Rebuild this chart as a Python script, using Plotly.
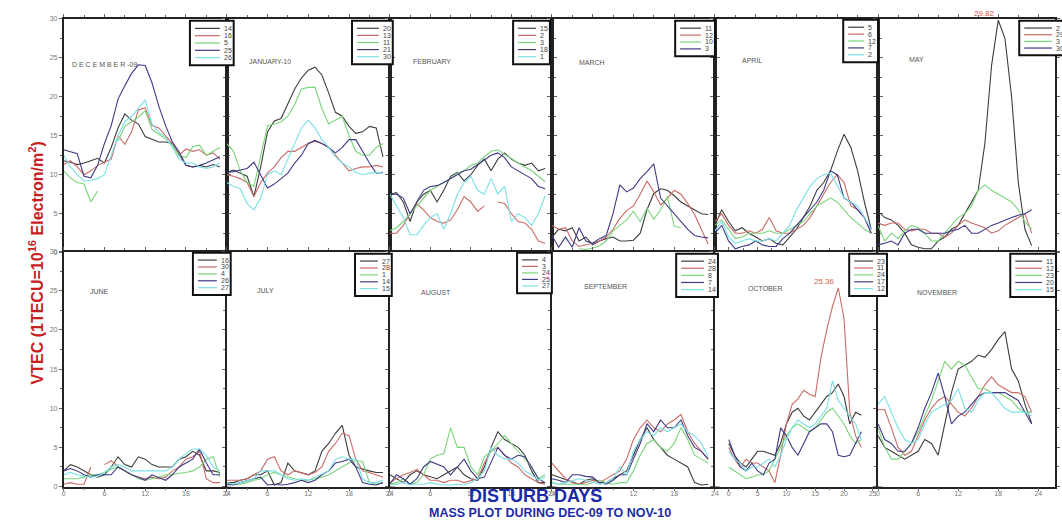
import plotly.graph_objects as go

# ---------------------------------------------------------------- data
HOURS = list(range(24))
N = None

SERIES_COLORS = ["#3c3c3c", "#c96b66", "#7ad57a", "#3f3a86", "#7ae0e6"]

MONTH_NAMES = ["D E C E M B E R -09", "JANUARY-10", "FEBRUARY", "MARCH", "APRIL", "MAY",
               "JUNE", "JULY", "AUGUST", "SEPTEMBER", "OCTOBER", "NOVEMBER"]

DEC_DAYS = ["14", "16", "5", "25", "26"]
DEC_VTEC = [
    [11.8, 11.6, 11.3, 11.5, 11.8, 12.1, 11.5, 13.5, 16.0, 17.8, 17.0, 16.5, 14.9, 14.5, 14.2, 14.2, 14.0, 12.6, 11.2, 11.0, 11.2, 11.0, 11.3, 11.0],
    [11.3, 11.8, 11.0, 10.0, 10.5, 11.2, 11.6, 12.0, 15.0, 13.9, 15.5, 18.3, 18.6, 16.3, 16.0, 15.0, 14.0, 12.5, 13.3, 13.0, 13.2, 12.5, 12.8, 12.0],
    [10.5, 9.6, 9.0, 8.8, 6.5, 7.9, N, N, 14.3, 16.2, 16.8, 17.4, 18.2, 15.8, 15.2, 14.6, 13.8, 12.4, 12.2, 13.6, 13.8, 12.5, 13.0, 13.5],
    [13.2, 13.0, 12.7, 9.8, 9.6, 11.2, 14.0, 16.3, 19.7, 21.4, 23.0, 24.1, 24.0, 21.8, 18.8, 16.3, 14.2, 12.9, 11.2, 11.0, 11.2, 11.5, 11.9, 12.3],
    [12.5, 11.0, 10.0, 9.2, 9.3, 9.5, 10.0, 12.5, 15.0, 16.8, 17.5, 18.5, 19.6, 16.5, 15.5, 14.8, 13.5, 12.0, 11.5, 11.5, 11.0, 10.8, 11.0, 11.5],
]

JAN_DAYS = ["20", "13", "11", "21", "30"]
JAN_VTEC = [
    [10.3, 10.6, 10.2, 9.8, 7.2, 11.0, 15.5, 16.9, 17.2, 19.0, 21.0, 22.4, 23.4, 23.8, 22.8, 20.5, 18.0, 17.5, 16.2, 15.3, 15.5, 16.2, 16.0, 12.3],
    [10.0, 9.8, 9.5, 9.0, 7.2, 9.0, 10.2, 11.0, 12.2, 13.0, 13.0, 13.5, 14.0, 14.3, 14.0, 13.5, 12.5, 11.5, 10.5, 10.8, 11.0, 11.0, 11.2, 11.0],
    [14.0, 13.0, 10.5, 9.0, 8.5, 12.5, 16.3, 16.5, 16.8, 17.5, 19.0, 21.0, 21.2, 21.2, 18.5, 16.5, 17.0, 17.5, 15.0, 13.0, 12.5, 12.5, 13.5, 14.0],
    [10.3, 10.4, 10.6, 10.8, 11.6, 10.0, 8.3, 8.8, 9.5, 10.2, 11.5, 12.5, 14.0, 14.4, 14.0, 13.5, 12.8, 13.5, 14.5, 14.5, 13.0, 11.5, 10.2, 10.3],
    [9.0, 8.5, 8.2, 6.3, 5.5, 7.0, 10.0, 10.5, 10.0, 12.0, 14.0, 16.0, 17.0, 16.0, 14.5, 13.5, 12.3, 11.5, 11.0, 10.3, 10.0, 10.2, 10.3, 10.2],
]

FEB_DAYS = ["15", "2", "3", "18", "1"]
FEB_VTEC = [
    [7.5, 7.7, 6.5, 4.0, 6.5, 7.5, 8.0, 6.5, 8.0, 9.8, 10.3, 9.2, 10.0, 11.2, 12.0, 10.5, 12.0, 12.8, 12.0, 11.5, 11.2, 11.5, 10.5, 10.8],
    [2.5, 2.5, 3.5, 5.0, 6.3, 5.5, 4.5, 4.0, 3.8, 4.2, 5.5, 7.2, 6.5, 5.3, 6.0, N, 6.5, 6.3, 5.0, 4.0, 3.8, 3.0, 1.5, 1.2],
    [2.8, 3.2, 4.0, 5.0, 6.0, 7.0, 8.0, 8.5, 9.0, 9.5, 10.2, 10.5, 11.2, 11.5, 12.3, 13.0, 13.2, 12.6, 12.0, 11.5, 11.0, 10.5, 9.8, 9.1],
    [7.5, 7.5, 7.0, 5.0, 6.5, 8.0, 8.5, 8.6, 9.0, 9.5, 10.0, 10.5, 10.7, 11.3, 12.0, 12.5, 12.8, 12.2, 11.0, 10.5, 10.0, 9.5, 8.5, 8.2],
    [7.5, 6.0, 4.5, 2.3, 2.3, 3.5, 4.5, 5.0, 3.0, 5.0, 7.5, 9.0, 9.8, 8.0, 7.5, 9.5, 7.5, 8.5, 4.0, 5.0, 4.5, 3.5, 5.0, 7.3],
]

MAR_DAYS = ["11", "12", "10", "3"]
MAR_VTEC = [
    [2.0, 3.0, 2.8, 3.2, 1.5, 2.0, 1.0, 1.5, 1.8, 2.0, 1.5, 1.5, 1.6, 2.5, 5.5, 7.6, 8.2, 8.0, 7.3, 6.5, 6.0, 5.5, 5.0, 4.9],
    [3.5, 3.0, 3.2, 1.5, 0.8, 1.0, 1.2, 1.5, 2.0, 3.0, 4.4, 5.4, 6.0, 7.5, 9.2, 7.8, 6.1, 7.0, 8.0, 7.5, 6.3, 4.9, 3.0, 1.1],
    [N, N, N, N, 0.5, 0.4, 0.6, 0.9, 1.5, 2.8, 3.5, 4.2, 5.3, 4.0, 5.7, 4.3, 5.5, 7.2, 3.4, 3.2, N, N, N, N],
    [2.2, 0.7, 2.0, 0.7, 3.2, 1.5, 1.2, 1.8, 2.2, 5.0, 8.7, 7.8, 8.3, 9.5, 10.4, 11.4, 7.0, 6.0, 4.9, 4.0, 3.0, 2.2, 2.0, 1.9],
]

APR_DAYS = ["5", "6", "12", "7", "2"]
APR_VTEC = [
    [3.5, 5.5, 4.0, 2.8, 3.2, 2.5, 2.0, 1.5, 1.8, 1.2, 1.0, 2.0, 3.0, 4.5, 6.0, 8.0, 9.0, 10.5, 13.0, 15.2, 13.5, 10.5, 6.5, 3.0],
    [4.0, 5.0, 3.5, 2.5, 2.5, 2.8, 2.5, 3.0, 4.5, 2.8, 2.5, 2.5, 3.0, 3.5, 4.5, 6.0, 7.5, 9.0, 10.0, 9.0, 6.0, 5.5, 4.5, 2.5],
    [3.5, 4.2, 3.0, 1.8, 2.0, 2.5, 2.5, 2.5, 2.8, 2.5, 2.5, 3.0, 3.5, 4.0, 5.0, 6.0, 6.5, 7.0, 6.5, 5.5, 4.5, 3.8, 3.0, 2.5],
    [2.5, 3.5, 1.5, 0.5, 0.8, 1.0, 1.5, 1.0, 0.8, 0.8, 1.8, 2.5, 3.5, 4.5, 5.5, 6.5, 8.0, 10.5, 10.0, 7.0, 6.5, 5.5, 4.5, 2.5],
    [2.8, 4.0, 2.0, 1.2, 1.5, 1.8, 1.5, 1.5, 1.8, 1.5, 2.5, 3.5, 5.5, 7.0, 8.5, 9.5, 10.0, 10.2, 8.5, 7.0, 6.5, 6.0, 4.5, 3.0],
]

MAY_DAYS = ["2", "29", "3", "30"]
MAY_VTEC = [
    [5.3, 4.5, 4.2, 3.5, 2.5, 1.0, 0.7, 0.5, 0.5, 1.5, 2.0, 3.0, 3.5, 5.0, 6.5, 8.0, 14.0, 24.0, 29.82, 27.5, 20.0, 9.0, 3.0, 0.9],
    [3.8, 3.5, 3.8, 3.8, 3.0, 2.8, 3.0, 3.0, 2.5, 2.5, 2.0, 2.5, 3.5, 4.2, 3.8, 3.5, 3.2, 2.5, 2.8, 3.5, 4.0, 4.5, 5.0, 2.5],
    [3.5, 1.5, 2.5, 1.8, 2.8, 3.5, 3.2, 2.5, 1.5, 1.5, 2.5, 3.5, 4.5, 5.0, 6.0, 8.0, 8.7, 8.0, 7.5, 7.0, 6.5, 5.5, 4.0, 3.0],
    [1.0, 1.2, 1.5, 1.0, 2.5, 3.0, 3.0, 2.5, 2.5, 2.5, 2.5, 2.8, 3.0, 3.5, 2.5, 2.5, 3.0, 3.5, 3.8, 4.2, 4.5, 4.8, 5.0, 5.5],
]

JUN_DAYS = ["16", "30", "4", "26", "27"]
JUN_VTEC = [
    [2.0, 2.8, 2.5, 2.0, 1.5, 1.2, 1.5, 2.5, 3.8, 2.8, 2.5, 3.8, 3.5, 2.8, 2.5, 2.5, 2.5, 3.5, 3.8, 4.5, 4.0, 2.0, 2.0, 1.8],
    [0.3, 0.5, 0.3, 0.3, 2.5, N, 2.8, 3.3, 2.5, 2.0, 1.5, 1.2, 1.0, 1.2, 1.0, 1.2, 2.0, 2.5, 3.5, 3.8, 4.5, 1.0, 0.5, 0.5],
    [1.0, 1.0, 1.0, 1.2, 1.5, 1.5, 1.8, 2.2, 2.5, 2.0, 1.5, 1.0, 0.8, 1.0, 1.2, 1.5, 1.5, 1.7, 1.8, 2.0, 2.5, 3.5, 3.8, 1.2],
    [2.0, 2.3, 2.0, 1.5, 1.2, 1.5, 1.5, 1.5, 2.5, 2.0, 1.5, 1.2, 0.8, 1.5, 1.2, 0.8, 1.5, 2.5, 3.0, 3.5, 4.8, 3.0, 1.5, 1.5],
    [1.5, 1.8, 1.5, 1.3, 1.2, 1.3, 1.8, 2.5, 2.8, 2.5, 2.0, 2.0, 2.0, 2.0, 2.0, 2.0, 2.5, 3.5, 4.2, 4.8, 4.8, 4.0, 2.5, 2.0],
]

JUL_DAYS = ["27", "28", "1", "14", "15"]
JUL_VTEC = [
    [0.5, 0.5, 0.8, 1.0, 1.5, 1.5, 2.0, 0.2, 0.5, 3.0, 2.0, 1.8, 1.5, 2.0, 4.5, 5.5, 6.8, 7.8, 4.0, 2.5, 2.2, 2.0, 1.8, 1.8],
    [0.8, 0.8, 0.8, 1.0, 1.5, 2.0, 3.5, 3.8, 2.0, 1.5, 2.0, 1.8, 1.5, 1.8, 2.5, 4.5, 5.5, 6.8, 6.5, 3.5, 2.0, 1.8, 1.5, 1.2],
    [0.2, 0.3, 0.3, 0.5, 0.8, 1.0, 1.5, 1.8, 1.5, 1.2, 1.0, 0.8, 0.8, 1.0, 1.2, 1.5, 2.0, 2.5, 3.0, 3.3, 3.2, 0.5, 0.3, 0.5],
    [0.3, 0.2, 0.5, 0.8, 1.0, 1.2, 0.2, 0.3, 0.2, 0.3, 0.5, 0.8, 0.5, 0.8, 1.5, 2.0, 3.0, 3.2, 3.5, 2.5, 0.5, 0.3, 0.2, 0.5],
    [0.5, 0.3, 0.5, 0.8, 1.0, 2.0, 2.0, 2.0, 1.5, 1.0, 0.8, 1.0, 0.8, 1.2, 1.5, 2.0, 3.5, 3.8, 3.5, 3.5, 1.0, 0.5, 0.5, 0.8],
]

AUG_DAYS = ["4", "3", "24", "25", "27"]
AUG_VTEC = [
    [1.5, 1.0, 0.5, 1.5, 2.0, 1.5, 1.2, 1.0, 1.5, 2.0, 2.5, 1.5, 1.0, 0.8, 2.5, 5.0, 7.0, 6.0, 5.5, 5.0, 4.0, 2.0, 0.5, 0.5],
    [0.5, 1.0, 1.5, 1.8, 2.2, 1.5, 0.8, 0.8, 0.5, 0.8, 0.8, 0.5, 0.8, 1.0, 3.0, 4.5, 5.0, 4.0, 3.0, 2.5, 1.5, 1.0, 0.5, 0.3],
    [0.3, 0.5, 1.0, 0.3, 0.5, 1.5, 3.5, 4.0, 4.2, 7.5, 5.0, 5.0, 2.5, 1.5, 3.8, 4.5, 5.5, 6.5, 5.5, 4.5, 3.5, 2.5, 1.0, 1.5],
    [0.3, 1.5, 1.0, 0.3, 1.0, 2.5, 3.2, 2.8, 2.5, 1.5, 2.5, 3.5, 2.0, 1.0, 1.2, 3.0, 5.0, 4.0, 3.5, 4.0, 3.8, 2.5, 1.0, 0.5],
    [0.2, 0.3, 0.5, 0.2, 0.3, 0.3, 0.5, 0.3, 0.2, 0.2, 0.3, 0.2, 0.5, 1.0, 2.0, 5.0, 4.0, 3.5, 3.5, 3.0, 2.0, 1.5, 0.8, 1.2],
]

SEP_DAYS = ["24", "28", "8", "7", "14"]
SEP_VTEC = [
    [1.5, 1.2, 0.8, 0.5, 0.3, 0.8, 1.0, 0.5, 0.5, 1.0, 1.5, 2.0, 4.0, 6.0, 7.5, 6.0, 5.0, 4.0, 3.5, 3.0, 2.5, 0.5, 0.2, 0.3],
    [3.0, 2.0, 1.0, 0.5, 0.3, 0.5, 0.8, 0.5, 1.0, 1.5, 2.0, 3.5, 6.0, 7.5, 8.5, 7.5, 7.0, 8.0, 8.5, 9.2, 7.0, 5.5, 4.5, 3.5],
    [0.5, 0.3, 0.3, 0.3, 0.3, 0.2, 0.5, 0.8, 0.5, 0.3, 0.5, 0.5, 2.0, 4.0, 5.5, 6.0, 5.0, 4.5, 5.5, 7.5, 6.0, 4.0, 3.5, 3.0],
    [1.0, 0.8, 0.5, 1.5, 1.5, 1.3, 1.2, 0.5, 0.3, 0.8, 1.5, 1.5, 3.5, 5.5, 8.0, 7.0, 8.5, 7.5, 7.5, 8.5, 6.5, 5.0, 4.5, 3.5],
    [0.5, 0.3, 0.5, 0.8, 1.0, 0.8, 0.5, 0.3, 0.5, 1.0, 2.5, 1.5, 4.5, 6.0, 7.0, 6.5, 7.5, 7.0, 7.5, 8.0, 7.0, 6.5, 5.5, 3.8],
]

OCT_DAYS = ["23", "11", "24", "17", "12"]
OCT_VTEC = [
    [5.5, 4.0, 3.0, 2.5, 3.5, 4.5, 4.5, 4.2, 4.0, 5.5, 8.0, 9.5, 10.0, 9.0, 8.5, 9.5, 10.5, 11.5, 12.0, 13.1, 11.5, 8.0, 9.5, 9.1],
    [5.0, 3.5, 2.5, 3.5, 3.0, 3.0, 2.5, 2.0, 0.5, 4.0, 8.0, 10.5, 11.2, 12.3, 11.8, 11.5, 16.5, 20.0, 23.0, 25.36, 21.5, 9.5, 6.5, 5.0],
    [2.5, 2.0, 1.5, 1.0, 1.2, 1.5, 1.5, 2.0, 3.5, 5.0, 6.5, 7.5, 8.0, 7.5, 7.0, 7.5, 8.5, 9.5, 10.0, 9.0, 8.0, 6.5, 5.5, 6.0],
    [6.0, 4.0, 2.5, 2.0, 3.0, 2.0, 1.5, 3.0, 3.5, 7.5, 6.5, 5.0, 4.0, 5.5, 7.0, 7.5, 8.0, 8.0, 7.0, 4.0, 3.8, 4.0, 5.5, 7.0],
    [4.5, 3.5, 3.0, 2.0, 2.5, 2.5, 3.0, 3.5, 2.5, 4.0, 6.0, 7.5, 8.5, 8.0, 7.5, 8.0, 9.0, 10.0, 13.5, 11.0, 10.0, 9.0, 8.0, 6.0],
]

NOV_DAYS = ["11", "12", "23", "20", "15"]
NOV_VTEC = [
    [6.5, 5.0, 4.5, 4.0, 3.5, 4.0, 4.5, 6.0, 5.5, 4.0, 8.0, 12.0, 15.0, 15.5, 16.0, 16.8, 16.5, 17.5, 18.8, 19.8, 15.0, 13.5, 10.5, 8.1],
    [9.8, 9.8, 7.5, 5.0, 4.0, 4.5, 6.5, 8.5, 10.0, 11.0, 11.5, 10.5, 9.5, 9.0, 10.0, 11.5, 13.0, 14.0, 13.0, 12.5, 12.0, 12.0, 11.5, 9.5],
    [7.5, 5.0, 3.5, 3.5, 4.5, 5.5, 7.0, 9.0, 11.0, 13.5, 16.0, 15.0, 16.0, 15.5, 14.0, 12.5, 12.5, 12.0, 12.0, 11.5, 11.0, 10.0, 9.5, 9.5],
    [8.0, 6.0, 5.5, 4.5, 4.5, 5.5, 7.5, 10.0, 12.0, 14.5, 11.5, 8.0, 9.0, 9.5, 10.5, 11.5, 12.0, 12.0, 12.0, 12.0, 11.5, 11.0, 9.5, 8.0],
    [10.5, 11.5, 9.5, 7.5, 6.0, 5.5, 6.0, 8.0, 9.5, 10.0, 10.5, 11.0, 12.5, 10.0, 9.5, 11.0, 12.0, 12.0, 11.0, 10.0, 9.5, 9.5, 9.5, 9.0],
]

PANEL_DAYS = [DEC_DAYS, JAN_DAYS, FEB_DAYS, MAR_DAYS, APR_DAYS, MAY_DAYS,
              JUN_DAYS, JUL_DAYS, AUG_DAYS, SEP_DAYS, OCT_DAYS, NOV_DAYS]
PANEL_VTEC = [DEC_VTEC, JAN_VTEC, FEB_VTEC, MAR_VTEC, APR_VTEC, MAY_VTEC,
              JUN_VTEC, JUL_VTEC, AUG_VTEC, SEP_VTEC, OCT_VTEC, NOV_VTEC]

# ---------------------------------------------------------------- layout (pixels)
W, H = 1062, 530
PANEL_LEFT = [62, 226, 390, 553, 717, 881]
PANEL_WIDTH = [164, 164, 163, 164, 164, 178]   # last column frame runs past hour 24
ROWS = [(15, 252), (251, 489)]                 # (top, bottom) of each row
X_RANGES = [[0, 24]] * 12
X_RANGES[5] = [0, 26.5]
X_RANGES[11] = [0, 26.5]
X_RANGES[10] = [-2.4, 25.9]                    # October panel uses its own hour scale
X_DTICK = [6] * 12
X_DTICK[10] = 5

LEGEND_BOX = [(189, 17, 233, 62), (352, 17, 393, 61), (514, 17, 551, 61),
              (677, 17, 717, 53), (846, 16, 881, 59), (1023, 17, 1070, 52),
              (192, 252, 230, 295), (355, 253, 392, 296), (518, 252, 553, 293),
              (678, 253, 720, 297), (852, 253, 890, 296), (1014, 253, 1060, 297)]
MONTH_POS = [(68, 61), (246, 58), (411, 58), (578, 59), (742, 57), (910, 56),
             (86, 291), (254, 290), (419, 292), (583, 286), (748, 288), (918, 292)]


def px(x):
    return x / W


def py(y):
    return 1 - y / H


fig = go.Figure()
layout = dict(width=W, height=H, margin=dict(l=0, r=0, t=0, b=0),
              paper_bgcolor="white", plot_bgcolor="white", showlegend=False)
shapes, annotations = [], []

for i in range(12):
    row, col = divmod(i, 6)
    k = i + 1
    suffix = "" if k == 1 else str(k)
    left = PANEL_LEFT[col]
    top, bottom = ROWS[row]

    for j, vals in enumerate(PANEL_VTEC[i]):
        fig.add_trace(go.Scatter(
            x=HOURS, y=vals, mode="lines", connectgaps=False,
            line=dict(color=SERIES_COLORS[j], width=1.1),
            xaxis="x" + suffix, yaxis="y" + suffix,
            name=PANEL_DAYS[i][j], hoverinfo="x+y+name"))

    axis_common = dict(showline=True, linecolor="#222", linewidth=1.5, mirror="ticks",
                       ticks="outside", ticklen=3, tickwidth=1, tickcolor="#666",
                       showgrid=False, zeroline=False,
                       tickfont=dict(family="Liberation Sans", size=7, color="#777"))
    layout["xaxis" + suffix] = dict(
        axis_common, domain=[px(left), px(left + PANEL_WIDTH[col])], range=X_RANGES[i],
        tick0=0, dtick=X_DTICK[i], minor=dict(dtick=X_DTICK[i] / 2, ticks="outside", ticklen=2, tickcolor="#666"),
        showticklabels=(row == 1), ticklabelstandoff=-4, anchor="y" + suffix)
    layout["yaxis" + suffix] = dict(
        axis_common, domain=[py(bottom), py(top)], range=[0, 30],
        tick0=0, dtick=5, minor=dict(dtick=2.5, ticks="outside", ticklen=2, tickcolor="#666"),
        showticklabels=(col == 0), anchor="x" + suffix)

    # month caption
    mx, my = MONTH_POS[i]
    annotations.append(dict(x=px(mx), y=py(my), xref="paper", yref="paper",
                            text=MONTH_NAMES[i], showarrow=False, xanchor="left", yanchor="middle",
                            font=dict(family="Liberation Sans", size=7, color="#555")))

    # boxed key of the disturbed days
    x0, y0, x1, y1 = LEGEND_BOX[i]
    shapes.append(dict(type="rect", xref="paper", yref="paper",
                       x0=px(x0), x1=px(x1), y0=py(y1), y1=py(y0),
                       line=dict(color="#111", width=2), fillcolor="white", layer="above"))
    n = len(PANEL_DAYS[i])
    step = (y1 - y0 - 8) / n
    for j, day in enumerate(PANEL_DAYS[i]):
        ey = y0 + 4 + step * (j + 0.5)
        shapes.append(dict(type="line", xref="paper", yref="paper",
                           x0=px(x0 + 5), x1=px(x1 - 14), y0=py(ey), y1=py(ey),
                           line=dict(color=SERIES_COLORS[j], width=1.2), layer="above"))
        annotations.append(dict(x=px(x1 - 12), y=py(ey), xref="paper", yref="paper",
                                text=day, showarrow=False, xanchor="left", yanchor="middle",
                                font=dict(family="Liberation Sans", size=7, color="#444")))

# peak values of the two strongest disturbances
for i, j, color in [(5, 0, "#d9534f"), (10, 1, "#d9664a")]:
    vals = PANEL_VTEC[i][j]
    peak = max(v for v in vals if v is not None)
    h = HOURS[vals.index(peak)]
    k = str(i + 1)
    annotations.append(dict(x=h - 0.2, y=peak, xref="x" + k, yref="y" + k,
                            text=f"{peak:.2f}", showarrow=False, xanchor="right", yanchor="bottom",
                            font=dict(family="Liberation Sans", size=8, color=color)))

# axis titles
annotations.append(dict(x=px(22), y=py(262), xref="paper", yref="paper", textangle=-90,
                        text="<b>VTEC (1TECU=10<sup>16</sup> Electron/m<sup>2</sup>)</b>",
                        showarrow=False, font=dict(family="Liberation Sans", size=16, color="#c8201e")))
annotations.append(dict(x=px(537), y=py(511), xref="paper", yref="paper",
                        text="<b>DISTURB DAYS</b>", showarrow=False,
                        font=dict(family="Liberation Sans", size=18, color="#1c2aa8")))
annotations.append(dict(x=px(551), y=py(525), xref="paper", yref="paper",
                        text="<b>MASS PLOT DURING DEC-09 TO NOV-10</b>", showarrow=False,
                        font=dict(family="Liberation Sans", size=12.5, color="#1c2aa8")))

layout["shapes"] = shapes
layout["annotations"] = annotations
fig.update_layout(**layout)
fig.write_html("out.html")
